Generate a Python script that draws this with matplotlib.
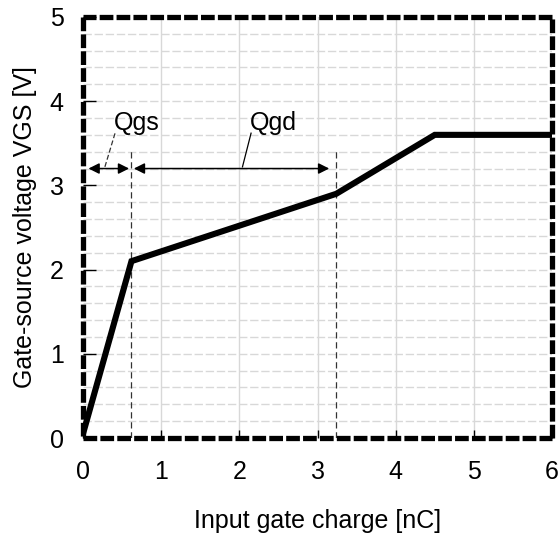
import matplotlib.pyplot as plt
import numpy as np

plt.rcParams['font.family'] = ['Liberation Sans', 'DejaVu Sans']

# gate charge curve
q_nc = [0.0, 0.62, 3.24, 4.5, 6.0]
vgs = [0.05, 2.1, 2.9, 3.6, 3.6]

# markers for Qgs / Qgd
q_split = [0.62, 3.24]
dash_top = 3.43
arrow_y = 3.2
qgs_span = [0.07, 0.59]
qgd_span = [0.65, 3.15]

xticks = [0, 1, 2, 3, 4, 5, 6]
yticks = [0, 1, 2, 3, 4, 5]

fig = plt.figure(figsize=(5.59, 5.35), dpi=100)
ax = fig.add_axes([0.1485, 0.1813, 0.839, 0.787])

# grid
for xv in xticks[1:-1]:
    ax.axvline(xv, color='#d8d8d8', lw=1.0, zorder=0)
for yv in np.arange(0.2, 5.0, 0.2):
    ax.axhline(yv, color='#d8d8d8', lw=1.0, ls=(0, (6, 2)), zorder=0)

ax.plot(q_nc, vgs, color='black', lw=4.4, solid_capstyle='butt',
        solid_joinstyle='miter', zorder=3)

for xv in q_split:
    ax.plot([xv, xv], [0, dash_top], color='#333333', lw=0.9,
            ls=(0, (5, 3)), zorder=2)

arrow_kw = dict(arrowstyle='<|-|>', color='black', lw=1.1,
                mutation_scale=16, shrinkA=0, shrinkB=0)
ax.annotate('', xy=(qgs_span[1], arrow_y), xytext=(qgs_span[0], arrow_y),
            arrowprops=arrow_kw)
ax.annotate('', xy=(qgd_span[1], arrow_y), xytext=(qgd_span[0], arrow_y),
            arrowprops=arrow_kw)

# leaders and labels
ax.plot([0.28, 0.41], [3.22, 3.62], color='#333333', lw=0.9, ls=(0, (4, 2)))
ax.plot([2.04, 2.15], [3.22, 3.62], color='black', lw=0.9)
ax.text(0.40, 3.74, 'Qgs', fontsize=18, ha='left', va='center')
ax.text(2.14, 3.74, 'Qgd', fontsize=18, ha='left', va='center')

ax.set_xlim(0, 6)
ax.set_ylim(0, 5)
ax.set_xticks(xticks)
ax.set_yticks(yticks)
ax.tick_params(direction='in', length=6, width=1, labelsize=18, pad=16)
ax.tick_params(axis='y', length=9, pad=14)

# dashed heavy border
for sp in ax.spines.values():
    sp.set_visible(False)
border = [((0, 0), (1, 0)), ((1, 0), (1, 1)), ((1, 1), (0, 1)), ((0, 1), (0, 0))]
for (x0, y0), (x1, y1) in border:
    ax.plot([x0, x1], [y0, y1], transform=ax.transAxes, color='black',
            lw=3.8, dashes=(2.6, 0.6), dash_capstyle='butt',
            clip_on=False, zorder=5)

ax.set_xlabel('Input gate charge [nC]', fontsize=18, labelpad=18)
ax.set_ylabel('Gate-source voltage VGS [V]', fontsize=18, labelpad=9)

fig.savefig('out.png', dpi=100)
